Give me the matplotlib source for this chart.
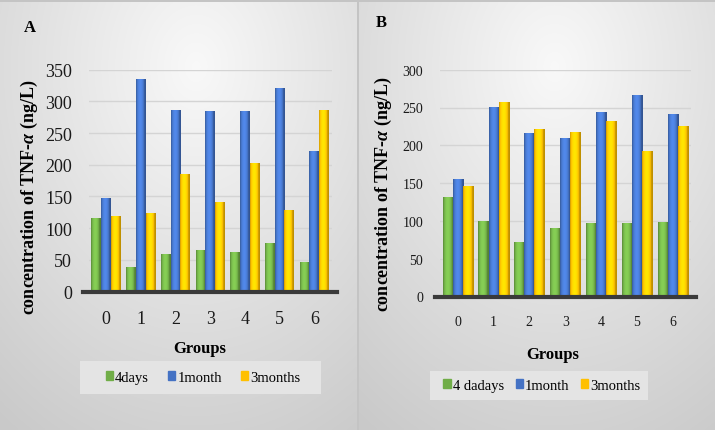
import numpy as np
import matplotlib.pyplot as plt
from matplotlib.patches import Patch, Rectangle
from matplotlib.lines import Line2D

# values (TNF-alpha, ng/L)
groups = ['0', '1', '2', '3', '4', '5', '6']
A_4days = [116, 38, 59, 66, 62, 77, 46]
A_1month = [147, 336, 286, 285, 285, 321, 221]
A_3months = [119, 124, 185, 142, 203, 128, 286]
B_4days = [132, 100, 72, 90, 97, 97, 99]
B_1month = [156, 251, 216, 209, 244, 266, 241]
B_3months = [146, 257, 222, 217, 232, 193, 226]

A_labels = ['4days', '1month', '3months']
B_labels = ['4 dadays', '1month', '3months']

GREEN = '#70ad47'
BLUE = '#4472c4'
YELLOW = '#ffc000'
SERIF = 'Liberation Serif'

plt.rcParams['mathtext.fontset'] = 'custom'
plt.rcParams['mathtext.it'] = 'Liberation Serif:italic:bold'
plt.rcParams['mathtext.rm'] = 'Liberation Serif:bold'

W, H = 715, 431
fig = plt.figure(figsize=(W / 100, H / 100), dpi=100)
fig.patch.set_facecolor('#c4c4c4')


def px(x0, y0, x1, y1):
    # pixel box (top-left origin) -> figure fraction rect
    return [x0 / W, 1 - y1 / H, (x1 - x0) / W, (y1 - y0) / H]


def background(rect, cx=0.55, cy=0.85):
    bg = fig.add_axes(rect)
    bg.set_axis_off()
    yy, xx = np.mgrid[0:1:200j, 0:1:200j]
    d = np.sqrt(((xx - cx) * 1.0) ** 2 + ((yy - cy) * 0.9) ** 2)
    v = np.clip(0.975 - 0.2 * d, 0.79, 0.975)
    bg.imshow(np.dstack([v, v, v]), origin='lower', extent=[0, 1, 0, 1],
              aspect='auto', interpolation='bilinear')
    bg.set_xlim(0, 1)
    bg.set_ylim(0, 1)


def shade(ax, bars, color):
    # fake cylinder look: horizontal light-dark gradient clipped to each bar
    c = np.array(plt.matplotlib.colors.to_rgb(color))
    t = np.linspace(0, 1, 40)
    f = 0.75 + 0.45 * np.sin(np.pi * np.clip(t * 1.15, 0, 1)) ** 0.6
    row = np.clip(c[None, :] * f[:, None], 0, 1)
    img = np.repeat(row[None, :, :], 2, axis=0)
    for b in bars:
        x0, w, h = b.get_x(), b.get_width(), b.get_height()
        im = ax.imshow(img, extent=[x0, x0 + w, 0, h], aspect='auto',
                       interpolation='bilinear', zorder=3)
        im.set_clip_path(b)
        b.set_facecolor('none')


def draw(box, vals, labels, ymax, tick_fs, ylab_xy, groups_xy, grp_fs,
         leg_box, leg_cx, leg_fs, colspace, base_x):
    ax = fig.add_axes(px(*box))
    ax.patch.set_alpha(0)
    x = np.arange(len(groups))
    w = 0.28
    for i, (v, col) in enumerate(zip(vals, [GREEN, BLUE, YELLOW])):
        bars = ax.bar(x + (i - 1) * w, v, w, color=col, zorder=3)
        shade(ax, bars, col)
    ax.set_xlim(-0.5, len(groups) - 0.5)
    ax.set_ylim(0, ymax)
    ax.set_yticks(np.arange(0, ymax + 1, 50))
    ax.set_xticks(x)
    ax.set_xticklabels(groups)
    for lab in ax.get_xticklabels() + ax.get_yticklabels():
        lab.set_family(SERIF)
        lab.set_fontsize(tick_fs)
        lab.set_color('#1a1a1a')
    ax.tick_params(length=0)
    ax.tick_params(axis='y', pad=12)
    ax.tick_params(axis='x', pad=13)
    ax.grid(axis='y', color='#d4d4d4', lw=1, zorder=0)
    for s in ax.spines.values():
        s.set_visible(False)
    # dark floor line, a bit wider than the plot area
    yb = 1 - box[3] / H
    fig.add_artist(Line2D([base_x[0] / W, base_x[1] / W], [yb, yb],
                          color='#3a3a3a', lw=3, zorder=5))

    fig.text(ylab_xy[0] / W, 1 - ylab_xy[1] / H,
             'concentration of TNF-$\\mathit{\\alpha}$ (ng/L)',
             rotation=90, ha='center', va='center', family=SERIF,
             fontsize=13, fontweight='bold')
    fig.text(groups_xy[0] / W, 1 - groups_xy[1] / H, 'Groups', ha='center',
             va='center', family=SERIF, fontsize=grp_fs, fontweight='bold')

    # legend box drawn separately so its padding can match
    fig.add_artist(Rectangle((leg_box[0] / W, 1 - leg_box[3] / H),
                             (leg_box[2] - leg_box[0]) / W,
                             (leg_box[3] - leg_box[1]) / H,
                             transform=fig.transFigure, facecolor='#e4e4e4',
                             edgecolor='none', zorder=2))
    handles = [Patch(color=c, label=l) for c, l in zip([GREEN, BLUE, YELLOW], labels)]
    cy = (leg_box[1] + leg_box[3]) / 2
    leg = fig.legend(handles=handles, loc='center',
                     bbox_to_anchor=(leg_cx / W, 1 - cy / H),
                     ncol=3, frameon=False,
                     prop={'family': SERIF, 'size': leg_fs},
                     handlelength=0.5, handleheight=0.55, handletextpad=0.15,
                     columnspacing=colspace, borderpad=0.0)
    leg.set_zorder(6)
    return ax


background(px(0, 3, 357, 431))
background(px(359, 3, 715, 431))

draw((88.6, 70.7, 331.7, 292.5), [A_4days, A_1month, A_3months], A_labels, 350, 13,
     (29, 197), (200, 349), 12, (80, 362, 321, 395), 203, 10.5, 1.3, (83, 337))
draw((439.8, 70.7, 690.6, 297.5), [B_4days, B_1month, B_3months], B_labels, 300, 10,
     (383, 194), (553, 355), 12, (430, 372, 648, 401), 542, 10.5, 0.8, (435, 696))

fig.text(30 / W, 1 - 28 / H, 'A', family=SERIF, fontsize=12, fontweight='bold',
         ha='center', va='center')
fig.text(381 / W, 1 - 23 / H, 'B', family=SERIF, fontsize=12, fontweight='bold',
         ha='center', va='center')

fig.savefig('out.png', dpi=100)
